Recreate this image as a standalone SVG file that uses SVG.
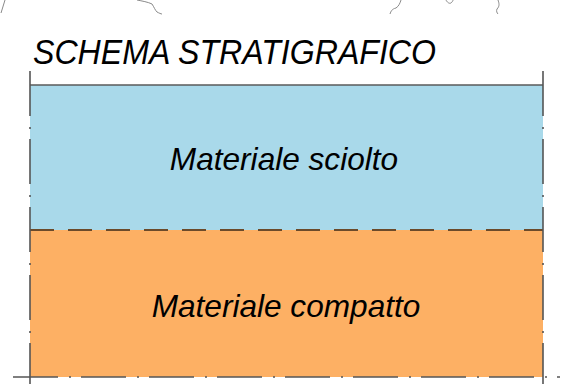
<svg xmlns="http://www.w3.org/2000/svg" width="573" height="384" viewBox="0 0 573 384">
<style>
.contour{fill:none;stroke:#8a8a8a;stroke-width:1}
.edge{stroke:#5a5a5a;stroke-width:1.6;fill:none}
.axis{stroke:#555;stroke-width:1.6;fill:none;stroke-dasharray:45 11 2 10}
.split{stroke:#6b4a2a;stroke-width:2;fill:none;stroke-dasharray:24 14}
.lbl{font-family:"Liberation Sans",Arial,sans-serif;font-style:italic;fill:#000}
</style>
<rect width="573" height="384" fill="#fff"/>
<g id="contours">
<path class="contour" d="M1,13 L5,0"/>
<path class="contour" d="M137,0 C142,1 148,2 152,4 C154,7 155,10 157,12 C159,13 161,14 162,14"/>
<path class="contour" d="M390,14 C391,11 392,9 396,8 C399,6 400,3 401,0"/>
<path class="contour" d="M446,0 C447,2 449,4 451,3 C452,2 453,1 453,0"/>
<path class="contour" d="M498,0 C499,3 500,6 497,9 C496,11 497,13 498,14"/>
</g>
<text class="lbl" x="33" y="64" font-size="35" textLength="403" lengthAdjust="spacingAndGlyphs">SCHEMA STRATIGRAFICO</text>
<g id="sciolto">
<rect x="30" y="85" width="513" height="145" fill="#a9d9ea"/>
<text class="lbl" x="284" y="170" font-size="31.6" text-anchor="middle">Materiale sciolto</text>
</g>
<g id="compatto">
<rect x="30" y="230" width="513" height="147" fill="#fdb064"/>
<text class="lbl" x="286" y="317" font-size="31.6" text-anchor="middle">Materiale compatto</text>
</g>
<g id="connectors">
<line class="edge" x1="30" y1="85" x2="543" y2="85"/>
<line class="split" x1="30" y1="230" x2="543" y2="230"/>
<line class="axis" x1="30" y1="71" x2="30" y2="384"/>
<line class="axis" x1="543" y1="71" x2="543" y2="384"/>
<line class="axis" x1="12" y1="377" x2="560" y2="377" stroke-dashoffset="-1"/>
</g>
</svg>
